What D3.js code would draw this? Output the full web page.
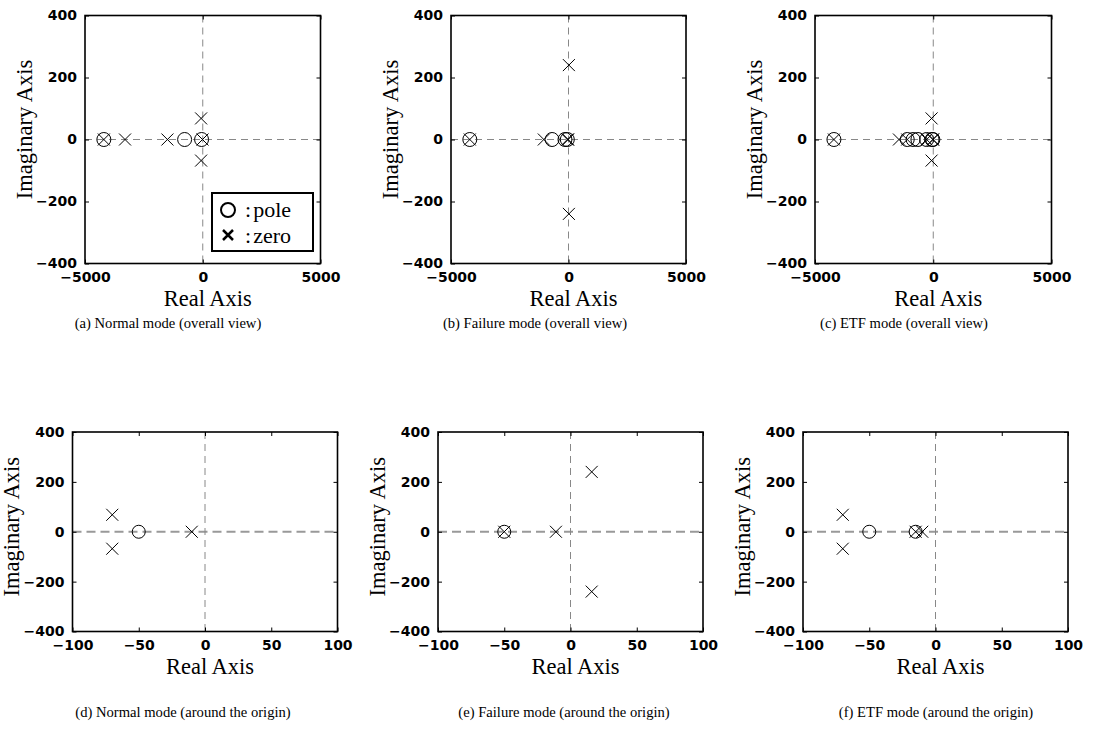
<!DOCTYPE html>
<html><head><meta charset="utf-8">
<script src="https://cdn.jsdelivr.net/npm/d3@7"></script>
<style>
body{margin:0;background:#fff;}
svg{display:block;}
.tick text{font-family:"DejaVu Sans",sans-serif;font-weight:bold;font-size:14px;fill:#000;}
.lbl{font-family:"Liberation Serif","Times New Roman",serif;font-size:22.5px;fill:#000;}
.cap{font-family:"Liberation Serif","Times New Roman",serif;font-size:15px;fill:#000;}
</style></head>
<body>
<script>
// ---------- data ----------
const captions = [
  "(a) Normal mode (overall view)",
  "(b) Failure mode (overall view)",
  "(c) ETF mode (overall view)",
  "(d) Normal mode (around the origin)",
  "(e) Failure mode (around the origin)",
  "(f) ETF mode (around the origin)"
];
const overallXTicks = [-5000, 0, 5000];
const originXTicks = [-100, -50, 0, 50, 100];
const yTicks = [-400, -200, 0, 200, 400];
const overallXDomain = [-5000, 5000];
const originXDomain = [-100, 100];
const yDomain = [-400, 400];

// poles / zeros as [real, imaginary]
const normalPoles = [[-4200, 0], [-770, 0], [-50, 0]];
const normalZeros = [[-4200, 0], [-3300, 0], [-1500, 0], [-70, 68], [-70, -68], [-10, 0]];
const failurePoles = [[-4200, 0], [-700, 0], [-150, 0], [-50, 0]];
const failureZeros = [[-4200, 0], [-1050, 0], [-50, 0], [-11, 0], [16, 240], [16, -240]];
const etfPoles = [[-4200, 0], [-1100, 0], [-850, 0], [-650, 0], [-280, 0], [-50, 0], [-15, 0]];
const etfZeros = [[-4200, 0], [-1450, 0], [-1100, 0], [-280, 0], [-70, 68], [-70, -68], [-15, 0], [-10, 0]];
const legendLabels = ["pole", "zero"];

// ---------- layout ----------
const W = 1107, H = 742;
const panels = [
  {x0:85,  x1:320.5, y0:15.5, y1:263.5, dom:overallXDomain, ticks:overallXTicks, poles:normalPoles,  zeros:normalZeros,  cap:captions[0], cx:168, cy:328, legend:true, r:7},
  {x0:451, x1:686,   y0:15.5, y1:263.5, dom:overallXDomain, ticks:overallXTicks, poles:failurePoles, zeros:failureZeros, cap:captions[1], cx:535, cy:328, r:7},
  {x0:815, x1:1051.5,y0:15.5, y1:263.5, dom:overallXDomain, ticks:overallXTicks, poles:etfPoles,     zeros:etfZeros,     cap:captions[2], cx:904, cy:328, r:7},
  {x0:72.5,x1:337.5, y0:432,  y1:631.5, dom:originXDomain,  ticks:originXTicks,  poles:normalPoles,  zeros:normalZeros,  cap:captions[3], cx:183, cy:717, r:6.5, thickH:true},
  {x0:438, x1:703,   y0:432,  y1:631.5, dom:originXDomain,  ticks:originXTicks,  poles:failurePoles, zeros:failureZeros, cap:captions[4], cx:564, cy:717, r:6.5, thickH:true},
  {x0:803, x1:1068,  y0:432,  y1:631.5, dom:originXDomain,  ticks:originXTicks,  poles:etfPoles,     zeros:etfZeros,     cap:captions[5], cx:936, cy:717, r:6.5, thickH:true}
];

const svg = d3.select("body").append("svg").attr("width", W).attr("height", H);
const fmt = d3.format("d");

panels.forEach(p => {
  const x = d3.scaleLinear().domain(p.dom).range([p.x0, p.x1]);
  const y = d3.scaleLinear().domain(yDomain).range([p.y1, p.y0]);
  const g = svg.append("g");

  const cid = "c" + Math.round(p.x0);
  svg.append("clipPath").attr("id", cid).append("rect")
    .attr("x", p.x0).attr("y", p.y0).attr("width", p.x1 - p.x0).attr("height", p.y1 - p.y0);

  // dashed zero lines
  g.append("line").attr("x1", p.x0).attr("x2", p.x1).attr("y1", y(0)).attr("y2", y(0))
    .attr("stroke", p.thickH ? "#999" : "#888").attr("stroke-width", p.thickH ? 2 : 1)
    .attr("stroke-dasharray", p.thickH ? "9,5" : "7,5");
  g.append("line").attr("x1", x(0)).attr("x2", x(0)).attr("y1", p.y0).attr("y2", p.y1)
    .attr("stroke", "#888").attr("stroke-width", 1).attr("stroke-dasharray", "7,5");

  // axes
  const ax = g.append("g").attr("transform", `translate(0,${p.y1})`)
    .call(d3.axisBottom(x).tickValues(p.ticks).tickSize(-4).tickPadding(9).tickFormat(fmt));
  const axT = g.append("g").attr("transform", `translate(0,${p.y0})`)
    .call(d3.axisTop(x).tickValues(p.ticks).tickSize(-4).tickFormat(""));
  const ay = g.append("g").attr("transform", `translate(${p.x0},0)`)
    .call(d3.axisLeft(y).tickValues(yTicks).tickSize(-4).tickPadding(8).tickFormat(fmt));
  const ayR = g.append("g").attr("transform", `translate(${p.x1},0)`)
    .call(d3.axisRight(y).tickValues(yTicks).tickSize(-4).tickFormat(""));
  [ax, axT, ay, ayR].forEach(a => { a.select(".domain").remove(); a.selectAll("line").attr("stroke", "#000").attr("stroke-width", 1); });

  // markers
  const mg = g.append("g").attr("clip-path", `url(#${cid})`);
  mg.selectAll("circle.pole").data(p.poles).join("circle").attr("class", "pole")
    .attr("cx", d => x(d[0])).attr("cy", d => y(d[1])).attr("r", p.r)
    .attr("fill", "none").attr("stroke", "#000").attr("stroke-width", 1);
  const s = 6;
  mg.selectAll("path.zero").data(p.zeros).join("path").attr("class", "zero")
    .attr("d", d => { const cx = x(d[0]), cy = y(d[1]);
      return `M${cx - s},${cy - s}L${cx + s},${cy + s}M${cx - s},${cy + s}L${cx + s},${cy - s}`; })
    .attr("fill", "none").attr("stroke", "#000").attr("stroke-width", 1);

  // frame
  g.append("rect").attr("x", p.x0).attr("y", p.y0).attr("width", p.x1 - p.x0).attr("height", p.y1 - p.y0)
    .attr("fill", "none").attr("stroke", "#000").attr("stroke-width", 1.6);

  // axis labels
  g.append("text").attr("class", "lbl").attr("x", (p.x0 + p.x1) / 2 + 5).attr("y", p.y1 + 42.5)
    .attr("text-anchor", "middle").text("Real Axis");
  const ly = (p.y0 + p.y1) / 2 - (p.thickH ? 5 : 10);
  g.append("text").attr("class", "lbl").attr("transform", `translate(${p.x0 - 53.5},${ly}) rotate(-90)`)
    .attr("text-anchor", "middle").text("Imaginary Axis");

  // caption
  g.append("text").attr("class", "cap").attr("transform", `translate(${p.cx},${p.cy}) scale(0.975,1)`)
    .attr("text-anchor", "middle").text(p.cap);

  // legend
  if (p.legend) {
    const bx1 = p.x1 - 7.5, by1 = p.y1 - 12.5, bx0 = bx1 - 101, by0 = by1 - 58;
    const lg = g.append("g");
    lg.append("rect").attr("x", bx0).attr("y", by0).attr("width", bx1 - bx0).attr("height", by1 - by0)
      .attr("fill", "#fff").attr("stroke", "#000").attr("stroke-width", 2);
    lg.append("circle").attr("cx", bx0 + 16).attr("cy", by0 + 17).attr("r", 7)
      .attr("fill", "none").attr("stroke", "#000").attr("stroke-width", 2);
    const lx = bx0 + 16, lyy = by0 + 42, ls = 5;
    lg.append("path").attr("d", `M${lx - ls},${lyy - ls}L${lx + ls},${lyy + ls}M${lx - ls},${lyy + ls}L${lx + ls},${lyy - ls}`)
      .attr("stroke", "#000").attr("stroke-width", 2.5);
    const lt = lg.selectAll("text.leg").data(legendLabels).join("text").attr("class", "lbl leg")
      .attr("x", bx0 + 33).attr("y", (d, i) => by0 + 24 + i * 25.5)
      .style("font-size", "22px");
    lt.append("tspan").text(":");
    lt.append("tspan").attr("dx", 2).text(d => d);
  }
});
</script>
</body></html>
